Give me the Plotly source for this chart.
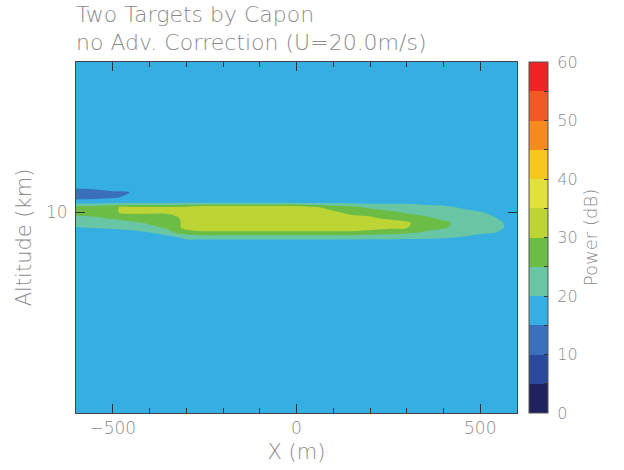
import plotly.graph_objects as go

# ---- data ----
x_m = [-600, -550, -500, -450, -400, -350, -300, -250, -200, -150, -100, -50, 0,
       50, 100, 150, 200, 250, 300, 350, 400, 450, 500, 550, 600]
alt_km = [10.30, 10.05, 10.04, 10.03, 10.02, 10.01, 10.00, 9.99, 9.98, 9.97, 9.96, 9.95, 9.94, 9.60]

power_db = [
    [17.5]*25,
    [16, 16, 17, 17.5] + [17.5]*21,
    [12, 13.5, 14.5, 15.05] + [17.5]*21,
    [13, 13.5, 14.5, 16] + [17.5]*21,
    [18, 18, 18.5, 18.5, 18.5, 18.5, 18.8, 19, 19, 19, 19, 19, 19,
     18.5, 19, 18.5, 18.5, 18.8, 19, 18.5, 18.5, 17.8, 17.5, 17.5, 17.5],
    [28, 28, 29.5, 31, 31, 31, 32, 34, 34, 34, 34, 34, 34,
     30.8, 28, 27, 24, 23, 22.5, 21.5, 21, 19.6, 18.5, 18, 17.5],
    [27, 28, 29.5, 31, 31, 31, 32, 34, 34, 34, 34, 34, 34,
     34, 31, 28.5, 29, 26.3, 24.5, 23.5, 22.5, 21.5, 20.3, 18.8, 18],
    [24, 24.5, 26, 27, 27, 28, 31.5, 34, 34, 34, 34, 34, 34,
     34, 34, 31.5, 30.3, 29, 27, 25.5, 24, 23, 21, 19.8, 18.5],
    [21.5, 22, 23, 24.5, 25.5, 26.5, 31.5, 34, 34, 34, 34, 34, 34,
     34, 34, 34, 32, 31.5, 30.8, 27, 25.6, 24, 22, 20.3, 19],
    [19.8, 20.3, 21, 22.5, 24.2, 25.5, 32, 33, 33, 33, 33, 33, 33,
     33, 33, 33, 32, 31.2, 30.5, 26.5, 25.4, 23.8, 21.8, 20.4, 19],
    [17.5, 17.5, 17.5, 18, 19.9, 24, 27, 29, 29, 29, 29, 29, 29,
     29, 29, 29, 28, 27, 26, 24.5, 23.5, 22.5, 20.8, 19.9, 18.5],
    [17.5, 17.5, 17.5, 17.5, 17.5, 17.5, 21.5, 22, 22, 22, 22, 22, 22,
     22, 22, 22, 21.5, 21.5, 21, 21, 20.5, 19.5, 18.5, 18, 17.5],
    [17.5, 17.5, 17.5, 17.5, 17.5, 17.5, 17.5, 17, 17, 17, 17, 17, 17,
     17, 17, 17, 17, 17.5, 17.5, 17.5, 17.5, 17.5, 17.5, 17.5, 17.5],
    [17.5]*25,
]

band_colors = ['#1f2160', '#2a4a9c', '#3a6fba', '#35aee2', '#69c6a5', '#6bbd45',
               '#bcd535', '#e2e13a', '#f6c71c', '#f58a1f', '#f15a22', '#ee2524']
cbar_tickvals = list(range(0, 61, 5))
cbar_ticktext = ['\u00a0' + str(v) if v % 10 == 0 else '' for v in cbar_tickvals]

title_lines = ['Two Targets by Capon', 'no Adv. Correction (U=20.0m/s)']

# ---- figure ----
n = len(band_colors)
cscale = []
for k, c in enumerate(band_colors):
    cscale.append([k / n, c])
    cscale.append([(k + 1) / n, c])

gray = '#8c8c8c'
fam = 'DejaVu Sans'

fig = go.Figure(go.Contour(
    x=x_m, y=alt_km, z=power_db,
    zmin=0, zmax=60,
    contours=dict(start=0, end=60, size=5, coloring='fill'),
    colorscale=cscale,
    line=dict(width=0, smoothing=1),
    colorbar=dict(
        x=1.027, xanchor='left', xpad=0, y=0.5, yanchor='middle', ypad=0,
        len=1, lenmode='fraction', thickness=19,
        outlinewidth=1, outlinecolor='#555555',
        tickmode='array', tickvals=cbar_tickvals, ticktext=cbar_ticktext,
        ticks='inside', ticklen=4, tickcolor='#333333',
        tickfont=dict(family=fam, size=16, color=gray, weight=300),
        title=dict(text='Power (dB)', side='right',
                   font=dict(family=fam, size=18, color=gray, weight=300)),
    ),
))

fig.update_layout(
    width=624, height=470,
    margin=dict(l=76, r=107, t=62, b=57),
    paper_bgcolor='white', plot_bgcolor='white',
    font=dict(family=fam, color=gray),
    showlegend=False,
)
fig.update_xaxes(
    range=[-600, 600], tickmode='array', tickvals=[-500, 0, 500],
    ticks='inside', ticklen=9, tickcolor='#333333', mirror='ticks',
    minor=dict(dtick=100, ticks='inside', ticklen=5, tickcolor='#333333'),
    showline=True, linecolor='#444444', linewidth=1, showgrid=False, zeroline=False,
    tickfont=dict(family=fam, size=17, color=gray, weight=300),
    title=dict(text='X (m)', font=dict(family=fam, size=21, color=gray, weight=300), standoff=6),
)
fig.update_yaxes(
    range=[9.6, 10.3], tickmode='array', tickvals=[10],
    ticks='inside', ticklen=9, tickcolor='#333333', mirror='ticks',
    ticklabelstandoff=4,
    showline=True, linecolor='#444444', linewidth=1, showgrid=False, zeroline=False,
    tickfont=dict(family=fam, size=17, color=gray, weight=300),
    title=dict(text='Altitude (km)', font=dict(family=fam, size=21, color=gray, weight=300), standoff=8),
)

for i, t in enumerate(title_lines):
    fig.add_annotation(
        text=t, xref='paper', yref='paper', x=0, xanchor='left', xshift=-2,
        y=1 + (62 - (14 + 29 * i)) / 351, yanchor='middle', showarrow=False,
        font=dict(family=fam, size=22, color=gray, weight=300),
    )

fig.write_html('out.html')
